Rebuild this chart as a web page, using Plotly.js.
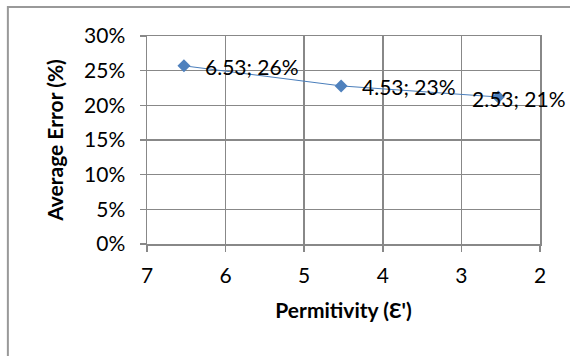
<!DOCTYPE html>
<html>
<head>
<meta charset="utf-8">
<script src="https://cdn.plot.ly/plotly-3.0.1.min.js"></script>
<style>html,body{margin:0;padding:0;background:#fff;}#chart{width:570px;height:356px;}</style>
</head>
<body>
<div id="chart"></div>
<script>
const permittivity = [6.53, 4.53, 2.53];
const avgError = [0.257, 0.228, 0.212];
const pointLabels = ["6.53; 26%", "4.53; 23%", "2.53; 21%"];
const xTicks = [7, 6, 5, 4, 3, 2];
const yTicks = [0, 0.05, 0.10, 0.15, 0.20, 0.25, 0.30];
const yTickText = ["0%", "5%", "10%", "15%", "20%", "25%", "30%"];

const FONT = "Lato, 'Open Sans', sans-serif";
const labelShift = [19, 19, -28];

const trace = {
  x: permittivity, y: avgError,
  type: "scatter", mode: "lines+markers",
  line: {color: "#4A7EBB", width: 1},
  marker: {symbol: "diamond", size: 10, color: "#4F81BD"},
  cliponaxis: false, hoverinfo: "x+y"
};
const annotations = permittivity.map((x, i) => ({
  x: x, y: avgError[i], xref: "x", yref: "y",
  text: pointLabels[i], showarrow: false,
  xanchor: "left", yanchor: "middle", xshift: labelShift[i], yshift: -1,
  font: {family: FONT, size: 21, color: "#000"}
}));
const layout = {
  width: 570, height: 356,
  margin: {l: 147, r: 30, t: 36, b: 112},
  paper_bgcolor: "#fff", plot_bgcolor: "#fff",
  showlegend: false,
  font: {family: FONT, size: 21, color: "#000"},
  xaxis: {
    range: [7, 2], tickvals: xTicks, ticktext: xTicks.map(String),
    showgrid: true, gridcolor: "#888", gridwidth: 1.5,
    showline: true, linecolor: "#888", linewidth: 1.5, mirror: true,
    ticks: "outside", ticklen: 6, tickcolor: "#888", tickwidth: 1.5,
    ticklabelstandoff: 6,
    zeroline: false, tickfont: {family: FONT, size: 21},
    title: {text: "Permitivity (Ɛ')", font: {family: FONT, size: 21, weight: "bold"}, standoff: 17}
  },
  yaxis: {
    range: [0, 0.30], tickvals: yTicks, ticktext: yTickText,
    showgrid: true, gridcolor: "#888", gridwidth: 1.5,
    showline: true, linecolor: "#888", linewidth: 1.5, mirror: true,
    ticks: "outside", ticklen: 6, tickcolor: "#888", tickwidth: 1.5,
    ticklabelstandoff: 10,
    zeroline: false, tickfont: {family: FONT, size: 21},
    title: {text: "Average Error (%)", font: {family: FONT, size: 21, weight: "bold"}, standoff: 14}
  },
  annotations: annotations,
  shapes: [{
    type: "rect", xref: "paper", yref: "paper",
    x0: -0.354, x1: 1.2, y0: -1.0, y1: 1.139,
    line: {color: "#999", width: 2}, fillcolor: "rgba(0,0,0,0)", layer: "below"
  }]
};
Plotly.newPlot("chart", [trace], layout, {displayModeBar: false, staticPlot: true});
</script>
</body>
</html>
